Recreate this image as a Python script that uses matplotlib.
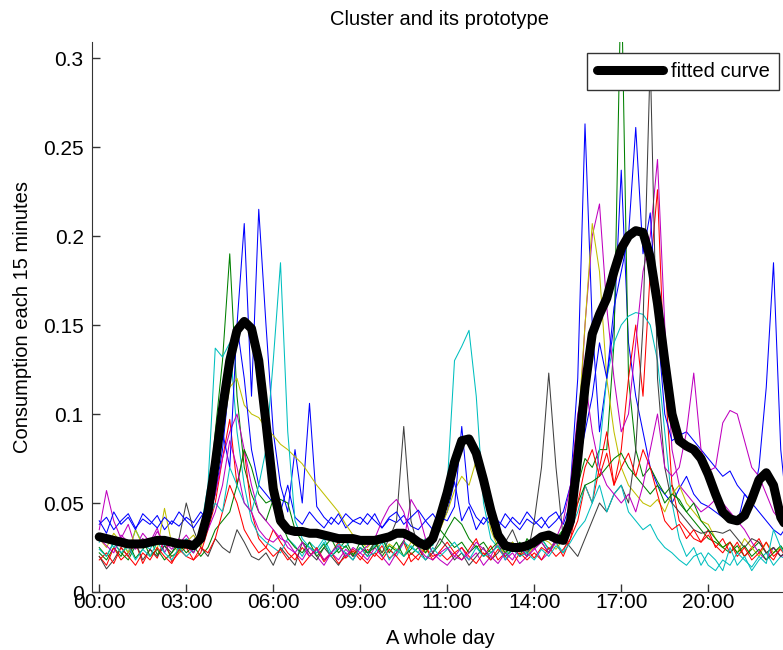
import numpy as np
import matplotlib
matplotlib.use('agg')
import matplotlib.pyplot as plt
import matplotlib.ticker as ticker

plt.rcParams['font.family'] = ['Liberation Sans', 'DejaVu Sans']

# 96 quarter-hour readings per day, values in 1/1000
profiles = [
    [38, 42, 35, 40, 44, 36, 41, 38, 43, 35, 40, 37,
     42, 39, 45, 40, 55, 80, 120, 150, 207, 110, 215, 150,
     90, 60, 45, 80, 50, 106, 48, 42, 38, 44, 36, 40,
     42, 38, 44, 36, 41, 39, 43, 37, 35, 40, 44, 38,
     45, 62, 40, 48, 35, 42, 38, 36, 44, 39, 35, 41,
     38, 42, 36, 40, 45, 60, 120, 263, 150, 90, 120, 150,
     237, 140, 110, 90, 70, 60, 55, 50, 58, 65, 55, 50,
     48, 45, 42, 40, 38, 55, 50, 70, 115, 185, 80, 40],
    [22, 18, 25, 20, 28, 19, 24, 30, 21, 26, 20, 23,
     27, 22, 30, 45, 90, 130, 190, 110, 70, 55, 45, 40,
     52, 52, 50, 35, 28, 25, 22, 27, 20, 24, 29, 21,
     25, 22, 28, 20, 26, 23, 29, 21, 25, 30, 22, 27,
     35, 42, 38, 30, 25, 28, 22, 26, 20, 24, 28, 22,
     26, 30, 24, 28, 35, 45, 60, 75, 70, 80, 80, 140,
     350, 120, 80, 65, 70, 62, 55, 60, 50, 45, 40, 35,
     30, 28, 25, 22, 26, 20, 24, 28, 22, 25, 20, 23],
    [20, 15, 25, 18, 22, 28, 16, 24, 19, 30, 17, 22,
     25, 18, 22, 35, 50, 75, 97, 60, 80, 45, 30, 25,
     35, 28, 22, 18, 25, 20, 24, 17, 22, 28, 19, 23,
     18, 24, 20, 26, 19, 22, 28, 17, 21, 25, 18, 23,
     28, 22, 18, 24, 30, 20, 26, 18, 22, 28, 20, 24,
     19, 25, 22, 28, 20, 30, 40, 60, 50, 70, 90, 60,
     80, 120, 150, 110, 180, 226, 120, 60, 40, 35, 30, 28,
     35, 25, 30, 22, 28, 20, 25, 30, 22, 18, 25, 20],
    [28, 32, 25, 30, 22, 35, 27, 24, 31, 26, 29, 23,
     30, 27, 35, 60, 137, 132, 140, 90, 60, 40, 32, 28,
     25, 22, 30, 26, 20, 28, 24, 30, 22, 27, 25, 32,
     28, 22, 26, 30, 24, 20, 28, 25, 22, 30, 26, 40,
     60, 130, 138, 147, 110, 50, 30, 25, 20, 28, 24, 22,
     27, 30, 24, 28, 22, 35, 45, 60, 50, 80, 120, 140,
     150, 155, 157, 156, 150, 130, 90, 50, 30, 20, 25, 15,
     22, 18, 12, 25, 15, 20, 12, 18, 22, 15, 20, 18],
    [35, 57, 40, 30, 38, 25, 33, 28, 36, 22, 30, 27,
     32, 26, 30, 40, 55, 75, 90, 100, 80, 60, 45, 40,
     35, 30, 28, 22, 18, 25, 20, 15, 22, 18, 24, 20,
     22, 18, 25, 20, 15, 22, 28, 52, 45, 30, 22, 18,
     15, 20, 25, 18, 22, 15, 20, 28, 18, 22, 16, 20,
     25, 18, 22, 28, 30, 45, 80, 150, 200, 218, 160, 120,
     90, 100, 140, 180, 200, 243, 150, 80, 60, 55, 50, 45,
     48, 52, 50, 45, 40, 35, 28, 22, 18, 25, 20, 22],
    [30, 25, 33, 28, 22, 35, 26, 30, 24, 47, 27, 22,
     28, 32, 25, 40, 60, 90, 115, 120, 105, 100, 98, 92,
     88, 83, 80, 76, 72, 66, 60, 55, 50, 45, 38, 32,
     28, 25, 30, 22, 27, 24, 20, 28, 25, 22, 30, 35,
     45, 57, 65, 60, 74, 60, 35, 25, 22, 28, 24, 20,
     26, 30, 28, 24, 30, 45, 90, 150, 207, 180, 120, 90,
     70, 60, 55, 50, 48, 52, 45, 55, 60, 50, 45, 40,
     38, 30, 25, 28, 22, 30, 25, 20, 28, 22, 25, 20],
    [20, 13, 18, 25, 20, 28, 18, 24, 20, 26, 22, 30,
     50, 35, 25, 20, 30, 25, 22, 35, 28, 20, 18, 22,
     15, 25, 20, 15, 28, 22, 18, 25, 20, 15, 22, 18,
     25, 20, 28, 22, 30, 40, 93, 40, 25, 18, 22, 30,
     25, 18, 22, 15, 20, 25, 18, 22, 28, 35, 25, 20,
     40, 70, 123, 70, 30, 25, 20, 30, 40, 50, 45, 55,
     60, 50, 80, 150, 300, 120, 70, 50, 45, 40, 35, 33,
     34, 34, 33, 35, 30, 25, 30, 28, 22, 25, 20, 24],
    [40, 33, 45, 38, 42, 35, 44, 40, 36, 42, 38, 45,
     40, 36, 42, 48, 60, 90, 70, 150, 120, 80, 60, 55,
     50, 45, 60, 42, 38, 45, 40, 36, 42, 38, 44, 40,
     38, 44, 40, 36, 42, 45, 38, 42, 46, 40, 35, 42,
     40, 48, 93, 50, 42, 38, 44, 40, 36, 42, 38, 45,
     40, 36, 42, 45, 38, 50, 70, 90, 110, 140, 120, 160,
     180, 200, 261, 190, 213, 150, 100, 85, 88, 90, 85, 80,
     75, 70, 65, 68, 60, 55, 50, 45, 40, 35, 32, 38],
    [25, 20, 28, 22, 18, 26, 30, 20, 24, 18, 22, 27,
     22, 26, 20, 25, 35, 40, 45, 60, 80, 70, 55, 50,
     52, 40, 30, 25, 22, 28, 20, 25, 30, 22, 26, 20,
     28, 22, 25, 30, 22, 28, 20, 24, 30, 22, 27, 35,
     30, 25, 28, 22, 26, 20, 24, 28, 22, 26, 20, 30,
     25, 28, 22, 30, 35, 40, 50, 60, 62, 65, 70, 75,
     78, 70, 65, 60, 55, 60, 50, 55, 52, 45, 50, 40,
     35, 30, 25, 28, 22, 26, 20, 24, 18, 22, 26, 20],
    [18, 22, 16, 25, 20, 15, 22, 18, 25, 20, 16, 24,
     20, 18, 25, 22, 30, 45, 60, 50, 35, 28, 22, 25,
     20, 24, 18, 22, 15, 20, 25, 18, 22, 16, 20, 24,
     20, 16, 22, 18, 24, 20, 15, 22, 18, 25, 20, 22,
     18, 22, 25, 20, 16, 22, 18, 24, 20, 15, 22, 18,
     22, 18, 25, 20, 24, 30, 50, 70, 80, 65, 78, 60,
     70, 78, 65, 80, 70, 55, 40, 35, 38, 30, 35, 28,
     32, 26, 22, 28, 20, 25, 18, 22, 28, 20, 24, 18],
    [24, 20, 28, 22, 26, 18, 24, 20, 28, 22, 18, 25,
     20, 24, 28, 40, 50, 45, 70, 60, 50, 45, 60, 80,
     130, 185, 90, 40, 30, 25, 22, 28, 20, 25, 22, 18,
     25, 20, 22, 28, 18, 24, 20, 26, 22, 18, 25, 20,
     24, 28, 22, 18, 25, 20, 22, 26, 18, 24, 20, 22,
     18, 24, 20, 26, 22, 28, 35, 40, 50, 60, 45, 55,
     60, 45, 40, 35, 38, 30, 25, 22, 18, 15, 20, 22,
     15, 12, 18, 15, 22, 18, 14, 20, 16, 35, 25, 18],
    [30, 26, 22, 32, 28, 24, 30, 26, 34, 28, 24, 30,
     26, 22, 30, 35, 45, 60, 85, 70, 50, 45, 35, 30,
     28, 32, 25, 22, 28, 20, 24, 18, 22, 26, 20, 25,
     22, 26, 30, 40, 48, 52, 45, 30, 25, 20, 18, 22,
     25, 20, 18, 22, 28, 24, 20, 16, 22, 18, 25, 20,
     24, 28, 22, 30, 40, 60, 100, 120, 90, 70, 60, 55,
     50, 55, 45, 60, 80, 100, 70, 65, 70, 90, 123, 80,
     68, 70, 95, 102, 100, 85, 70, 65, 55, 45, 40, 38],
]

fitted = [31, 30, 29, 28, 27, 27, 27, 28, 29, 29, 28, 27,
          27, 26, 30, 45, 72, 103, 130, 147, 152, 148, 130, 95,
          58, 40, 35, 34, 34, 33, 33, 32, 31, 30, 30, 30,
          29, 29, 29, 30, 31, 33, 33, 31, 28, 26, 30, 42,
          56, 73, 85, 86, 78, 63, 46, 32, 26, 25, 25, 26,
          28, 31, 32, 30, 29, 40, 75, 115, 145, 156, 165, 180,
          193, 200, 203, 202, 188, 162, 130, 100, 85, 82, 80, 75,
          66, 55, 45, 41, 40, 43, 52, 63, 67, 60, 42, 35]

tick_labels = ['00:00', '03:00', '06:00', '09:00', '11:00', '14:00', '17:00', '20:00']
line_colors = ['b', 'g', 'r', 'c', 'm', 'y', 'k']
matlab_rgb = {'b': (0, 0, 1), 'g': (0, 0.5, 0), 'r': (1, 0, 0), 'c': (0, 0.75, 0.75),
              'm': (0.75, 0, 0.75), 'y': (0.75, 0.75, 0), 'k': (0.25, 0.25, 0.25)}

x = np.arange(1, len(fitted) + 1)

fig = plt.figure(figsize=(7.83, 6.5), dpi=100)
# axes run a little past the right edge of the picture, like the original crop
ax = fig.add_axes([92 / 783, 58 / 650, 696 / 783, 550 / 650])

for i, p in enumerate(profiles):
    c = matlab_rgb[line_colors[i % len(line_colors)]]
    ax.plot(x, np.array(p) / 1000.0, color=c, lw=0.75)

ax.plot(x, np.array(fitted) / 1000.0, color='k', lw=6.5, label='fitted curve',
        solid_capstyle='round', solid_joinstyle='round')

ax.set_xlim(0, 96)
ax.set_ylim(0, 0.309)
ax.xaxis.set_major_locator(ticker.FixedLocator(x[::12]))
ax.set_xticklabels(tick_labels)
yt = [0, 0.05, 0.1, 0.15, 0.2, 0.25, 0.3]
ax.yaxis.set_major_locator(ticker.FixedLocator(yt))
ax.set_yticklabels(['0', '0.05', '0.1', '0.15', '0.2', '0.25', '0.3'])

ax.spines['top'].set_visible(False)
ax.spines['right'].set_visible(False)
for s in ['left', 'bottom']:
    ax.spines[s].set_color('#333333')
ax.tick_params(direction='in', length=6, width=1, color='#333333', labelsize=15)
ax.tick_params(axis='x', pad=1)
ax.tick_params(axis='y', pad=6)

ax.set_title('Cluster and its prototype', fontsize=14.5, pad=12)
ax.set_xlabel('A whole day', fontsize=14.5, labelpad=12)
ax.set_ylabel('Consumption each 15 minutes', fontsize=14.5, labelpad=8)

ax.legend(loc='upper right', bbox_to_anchor=(779 / 783, 1 - 53 / 650),
          bbox_transform=fig.transFigure, borderaxespad=0, fancybox=False,
          framealpha=1, edgecolor='#333333', fontsize=14.5, handlelength=3.3,
          handletextpad=0.4, borderpad=0.45)

plt.savefig('out.png', dpi=100)
